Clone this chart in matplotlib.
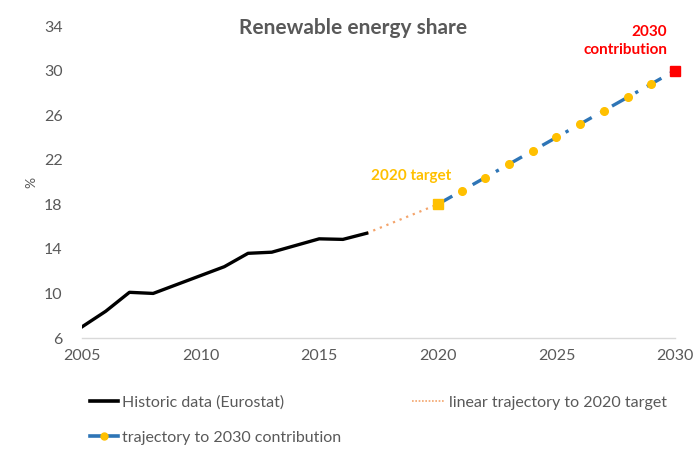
import matplotlib
matplotlib.use("Agg")
import matplotlib.pyplot as plt
from matplotlib.lines import Line2D

plt.rcParams['font.family'] = ['Lato', 'DejaVu Sans']

# Data
hist_years = [2005, 2006, 2007, 2008, 2009, 2010, 2011, 2012, 2013, 2014, 2015, 2016, 2017]
hist_vals = [7.0, 8.4, 10.1, 10.0, 10.8, 11.6, 12.4, 13.6, 13.7, 14.3, 14.9, 14.85, 15.4]

lin_years = [2017, 2020]
lin_vals = [15.4, 18.0]

traj_years = [2020, 2021, 2022, 2023, 2024, 2025, 2026, 2027, 2028, 2029, 2030]
traj_vals = [18.0, 19.2, 20.4, 21.6, 22.8, 24.0, 25.2, 26.4, 27.6, 28.8, 30.0]

target_2020 = (2020, 18.0)
contrib_2030 = (2030, 30.0)

y_ticks = [6, 10, 14, 18, 22, 26, 30, 34]
x_ticks = [2005, 2010, 2015, 2020, 2025, 2030]

grey = '#595959'
blue = '#2E75B6'
gold = '#FFC000'
orange = '#F4A46B'
red = '#FF0000'

fig = plt.figure(figsize=(7, 4.54), dpi=100)
ax = fig.add_axes([82/700, 1-338/454, (675-82)/700, (338-26)/454])

ax.plot(hist_years, hist_vals, color='black', lw=2.4, solid_joinstyle='round', zorder=3)
ax.plot(lin_years, lin_vals, color=orange, lw=1.6, linestyle=(0, (1, 2.2)), zorder=2)
ax.plot(traj_years[1:-1], traj_vals[1:-1], linestyle='none', marker='o', ms=5.5,
        color=gold, zorder=4)
ax.plot(traj_years, traj_vals, color=blue, lw=2.4, linestyle=(0, (5, 3, 1, 3)),
        zorder=3)
ax.plot([target_2020[0]], [target_2020[1]], marker='s', ms=6.5, color=gold, zorder=5,
        linestyle='none')
ax.plot([contrib_2030[0]], [contrib_2030[1]], marker='s', ms=7, color=red, zorder=5,
        linestyle='none', clip_on=False)

ax.set_xlim(2005, 2030)
ax.set_ylim(6, 34)
ax.set_xticks(x_ticks)
ax.set_yticks(y_ticks)
ax.tick_params(axis='both', length=0, colors=grey, labelsize=11.5)
ax.tick_params(axis='x', pad=8)
ax.tick_params(axis='y', pad=14)
for s in ['top', 'right', 'left']:
    ax.spines[s].set_visible(False)
ax.spines['bottom'].set_color('#D9D9D9')
ax.spines['bottom'].set_linewidth(1.0)
ax.set_ylabel('%', color=grey, fontsize=10, labelpad=2)
ax.yaxis.set_label_coords(-0.075, 0.5)

fig.text(353/700, 1-28/454, 'Renewable energy share', ha='center', va='center',
         fontsize=15, fontweight='bold', color=grey)

fig.text(411/700, 1-176/454, '2020 target', ha='center', va='center',
         fontsize=11, fontweight='bold', color=gold)

fig.text(625/700, 1-41/454, '2030\ncontribution', ha='center', va='center',
         fontsize=11, fontweight='bold', color=red, multialignment='right',
         linespacing=1.3)

h_hist = Line2D([], [], color='black', lw=2.6)
h_traj = Line2D([], [], color=blue, lw=2.6, marker='o', ms=5, markerfacecolor=gold,
                markeredgecolor=gold, markevery=[1])
h_lin = Line2D([], [], color=orange, lw=1.2, linestyle=(0, (1, 1)))

leg1 = fig.legend([h_hist, h_traj], ['Historic data (Eurostat)', 'trajectory to 2030 contribution'],
                  loc='upper left', bbox_to_anchor=(76/700, 1-381/454),
                  frameon=False, fontsize=11.5, labelcolor=grey, handlelength=1.7,
                  handletextpad=0.3, labelspacing=1.3)
leg2 = fig.legend([h_lin], ['linear trajectory to 2020 target'],
                  loc='upper left', bbox_to_anchor=(398/700, 1-381/454),
                  frameon=False, fontsize=11.5, labelcolor=grey, handlelength=2.0,
                  handletextpad=0.3)

fig.savefig('out.png', dpi=100)
